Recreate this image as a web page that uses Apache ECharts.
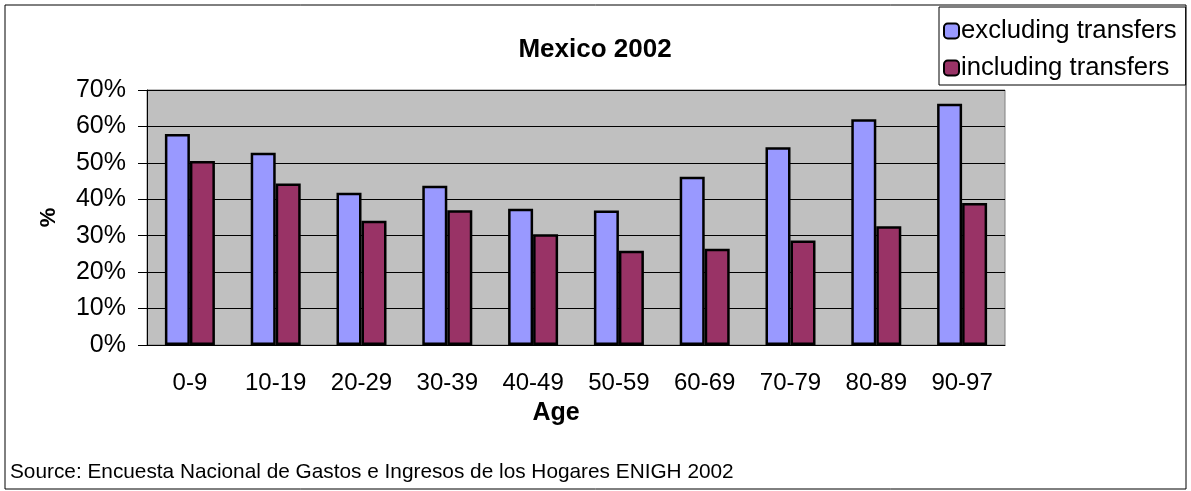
<!DOCTYPE html>
<html>
<head>
<meta charset="utf-8">
<script src="https://cdn.jsdelivr.net/npm/echarts@6/dist/echarts.min.js"></script>
<style>
  html, body { margin: 0; padding: 0; background: #fff; }
  #grafico { width: 1191px; height: 491px; }
</style>
</head>
<body>
<div id="grafico"></div>
<script>
var ageGroups = ['0-9', '10-19', '20-29', '30-39', '40-49', '50-59', '60-69', '70-79', '80-89', '90-97'];
var excludingTransfers = [57.9, 52.8, 41.8, 43.7, 37.4, 36.9, 46.2, 54.3, 62.0, 66.2];
var includingTransfers = [50.5, 44.3, 34.1, 37.0, 30.4, 25.9, 26.4, 28.7, 32.6, 39.0];

var fontFam = '"Liberation Sans", Arial, sans-serif';

var chartDom = document.getElementById('grafico');
var myChart = echarts.init(chartDom);

var option = {
    animation: false,
    textStyle: { fontFamily: fontFam, color: '#000' },
    title: {
        text: 'Mexico 2002',
        left: 590,
        top: 32,
        textAlign: 'center',
        textStyle: { fontFamily: fontFam, fontSize: 26, fontWeight: 'bold', color: '#000' }
    },
    legend: {
        orient: 'vertical',
        left: 939,
        top: 7,
        padding: [11, 9, 4, 4],
        itemGap: 11,
        itemWidth: 15,
        itemHeight: 15,
        itemStyle: { borderColor: '#000', borderWidth: 2 },
        borderColor: '#000',
        borderWidth: 1,
        backgroundColor: '#fff',
        textStyle: { fontFamily: fontFam, fontSize: 25.7, color: '#000', padding: [0, 0, 0, -3] },
        data: ['excluding transfers', 'including transfers']
    },
    grid: {
        left: 147,
        right: 186,
        top: 90,
        bottom: 146,
        show: true,
        backgroundColor: '#C0C0C0',
        borderColor: '#808080',
        borderWidth: 1
    },
    xAxis: {
        type: 'category',
        data: ageGroups,
        axisLine: { lineStyle: { color: '#000', width: 1 } },
        axisTick: { length: 7, lineStyle: { color: '#000' } },
        axisLabel: { margin: 26, fontSize: 24, color: '#000', fontFamily: fontFam }
    },
    yAxis: {
        type: 'value',
        min: 0,
        max: 70,
        interval: 10,
        name: '%',
        nameLocation: 'middle',
        nameGap: 87,
        nameRotate: 90,
        nameTextStyle: { fontFamily: fontFam, fontSize: 22, fontWeight: 'bold', color: '#000' },
        axisLine: { show: true, lineStyle: { color: '#000', width: 1 } },
        axisTick: { show: true, length: 9, lineStyle: { color: '#000' } },
        splitLine: { lineStyle: { color: '#000', width: 1 } },
        axisLabel: { margin: 21, fontSize: 25, color: '#000', fontFamily: fontFam, formatter: '{value}%' }
    },
    series: [{
        name: 'excluding transfers',
        type: 'bar',
        data: excludingTransfers,
        barWidth: 25,
        barGap: '0%',
        itemStyle: { color: '#9999FF', borderColor: '#000', borderWidth: 2.5 }
    }, {
        name: 'including transfers',
        type: 'bar',
        data: includingTransfers,
        barWidth: 25,
        barGap: '0%',
        itemStyle: { color: '#993366', borderColor: '#000', borderWidth: 2.5 }
    }],
    graphic: [{
        type: 'rect',
        silent: true,
        z: -1,
        shape: { x: 5, y: 5, width: 1181, height: 484 },
        style: { fill: null, stroke: '#000', lineWidth: 1 }
    }, {
        type: 'text',
        x: 556,
        y: 413,
        style: {
            text: 'Age',
            font: 'bold 25px ' + fontFam,
            fill: '#000',
            align: 'center',
            verticalAlign: 'middle'
        }
    }, {
        type: 'text',
        x: 10,
        y: 472,
        style: {
            text: 'Source: Encuesta Nacional de Gastos e Ingresos de los Hogares ENIGH 2002',
            font: '20.8px ' + fontFam,
            fill: '#000',
            verticalAlign: 'middle'
        }
    }]
};

myChart.setOption(option);
</script>
</body>
</html>
